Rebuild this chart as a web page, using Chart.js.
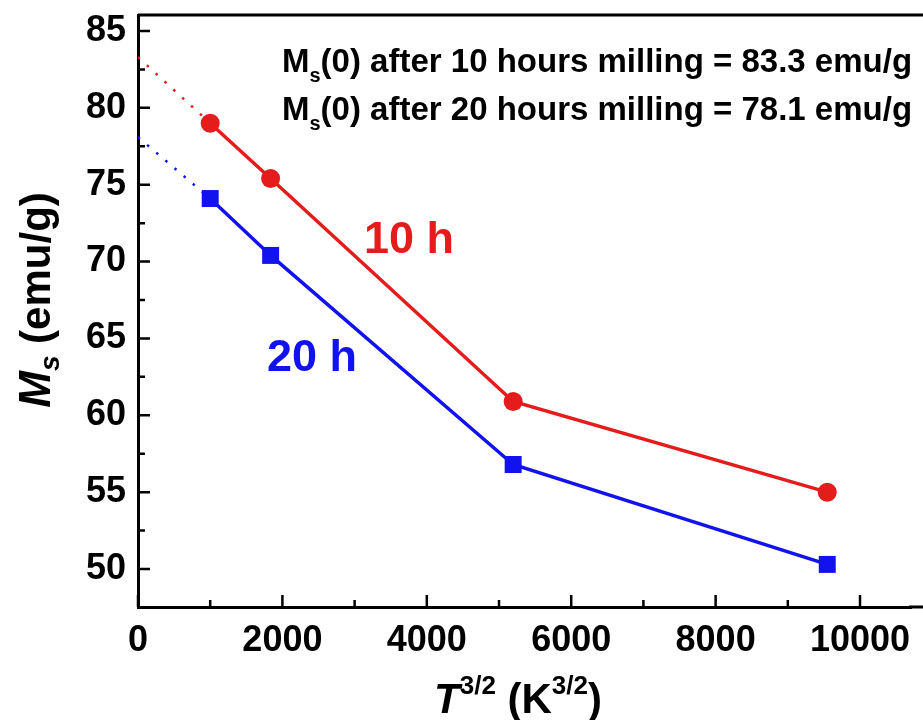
<!DOCTYPE html>
<html>
<head>
<meta charset="utf-8">
<script src="https://cdn.jsdelivr.net/npm/chart.js@4"></script>
<style>
  body { margin: 0; background: #fff; }
  canvas { display: block; }
</style>
</head>
<body>
<canvas id="msChart" width="923" height="720"></canvas>
<script>
// data, x = T^(3/2) for T = 100, 150, 300, 450 K
const tPow = [1000, 1837, 5196, 9546];
const ms10h = [79.0, 75.4, 60.9, 55.0];
const ms20h = [74.1, 70.4, 56.8, 50.3];
// extrapolation to T = 0
const fit10h = [83.3, 79.0];
const fit20h = [78.1, 74.1];
const fitX = [0, 1000];

const xTicks = [0, 2000, 4000, 6000, 8000, 10000];
const yTicks = [50, 55, 60, 65, 70, 75, 80, 85];

const RED = '#e41c1c';
const BLUE = '#1212ee';

function pts(xs, ys) {
  return xs.map((x, i) => ({ x: x, y: ys[i] }));
}

// inward ticks, major + minor, top border
const frameTicks = {
  id: 'frameTicks',
  afterDraw(chart) {
    const ctx = chart.ctx;
    const a = chart.chartArea;
    const xs = chart.scales.x, ys = chart.scales.y;
    ctx.save();
    ctx.strokeStyle = '#000';
    ctx.lineWidth = 2.5;
    ctx.beginPath();
    for (let v = 0; v <= xs.max; v += 1000) {
      const px = xs.getPixelForValue(v);
      const len = v % 2000 === 0 ? 12 : 7;
      ctx.moveTo(px, a.bottom);
      ctx.lineTo(px, a.bottom - len);
    }
    for (let v = 50; v <= ys.max; v += 2.5) {
      const py = ys.getPixelForValue(v);
      const len = v % 5 === 0 ? 12 : 7;
      ctx.moveTo(a.left, py);
      ctx.lineTo(a.left + len, py);
    }
    ctx.stroke();
    // axes run off the right edge of the figure
    ctx.lineWidth = 3;
    ctx.beginPath();
    ctx.moveTo(a.left, a.top);
    ctx.lineTo(chart.width, a.top);
    ctx.moveTo(a.right - 2, a.bottom);
    ctx.lineTo(chart.width, a.bottom);
    ctx.stroke();
    ctx.restore();
  }
};

function drawRuns(ctx, runs, x, y) {
  let cx = x;
  runs.forEach(r => {
    ctx.font = r.font;
    ctx.fillText(r.t, cx, y + (r.dy || 0));
    cx += ctx.measureText(r.t).width;
  });
}
function runsWidth(ctx, runs) {
  let w = 0;
  runs.forEach(r => { ctx.font = r.font; w += ctx.measureText(r.t).width; });
  return w;
}

const FF = '"Liberation Sans", Arial, sans-serif';

const labels = {
  id: 'labels',
  afterDraw(chart) {
    const ctx = chart.ctx;
    ctx.save();
    ctx.textBaseline = 'alphabetic';
    ctx.textAlign = 'left';
    ctx.fillStyle = '#000';

    // x title
    const xt = [
      { t: 'T', font: 'italic bold 42px ' + FF },
      { t: '3/2', font: 'bold 26px ' + FF, dy: -19 },
      { t: ' (K', font: 'bold 42px ' + FF },
      { t: '3/2', font: 'bold 26px ' + FF, dy: -19 },
      { t: ')', font: 'bold 42px ' + FF }
    ];
    const xw = runsWidth(ctx, xt);
    drawRuns(ctx, xt, 518 - xw / 2, 713);

    // y title
    const yt = [
      { t: 'M', font: 'italic bold 44px ' + FF },
      { t: 's', font: 'italic bold 28px ' + FF, dy: 9 },
      { t: ' (emu/g)', font: 'bold 42px ' + FF }
    ];
    const yw = runsWidth(ctx, yt);
    ctx.translate(50, 300);
    ctx.rotate(-Math.PI / 2);
    drawRuns(ctx, yt, -yw / 2, 0);
    ctx.setTransform(1, 0, 0, 1, 0, 0);

    // M_s(0) notes
    const notes = [
      ['10', '83.3', 72],
      ['20', '78.1', 120]
    ];
    notes.forEach(n => {
      drawRuns(ctx, [
        { t: 'M', font: 'bold 33px ' + FF },
        { t: 's', font: 'bold 20px ' + FF, dy: 10 },
        { t: '(0) after ' + n[0] + ' hours milling = ' + n[1] + ' emu/g', font: 'bold 33px ' + FF }
      ], 282, n[2]);
    });

    // series labels
    ctx.font = 'bold 45px ' + FF;
    ctx.fillStyle = RED;
    ctx.fillText('10 h', 364, 253);
    ctx.fillStyle = BLUE;
    ctx.fillText('20 h', 267, 371);
    ctx.restore();
  }
};

new Chart(document.getElementById('msChart'), {
  type: 'scatter',
  data: {
    datasets: [
      {
        label: '10 h fit',
        data: pts(fitX, fit10h),
        showLine: true,
        borderColor: RED,
        borderWidth: 2.5,
        borderDash: [2.5, 9.5],
        pointRadius: 0
      },
      {
        label: '20 h fit',
        data: pts(fitX, fit20h),
        showLine: true,
        borderColor: BLUE,
        borderWidth: 2.5,
        borderDash: [2.5, 9.5],
        pointRadius: 0
      },
      {
        label: '10 h',
        data: pts(tPow, ms10h),
        showLine: true,
        borderColor: RED,
        backgroundColor: RED,
        borderWidth: 3.5,
        pointStyle: 'circle',
        pointRadius: 9.5,
        pointBorderWidth: 0
      },
      {
        label: '20 h',
        data: pts(tPow, ms20h),
        showLine: true,
        borderColor: BLUE,
        backgroundColor: BLUE,
        borderWidth: 3.5,
        pointStyle: 'rect',
        pointRadius: 12,
        pointBorderWidth: 0
      }
    ]
  },
  options: {
    responsive: false,
    animation: false,
    layout: { padding: { left: 0, top: 15, right: 0, bottom: 0 } },
    plugins: {
      legend: { display: false },
      tooltip: { enabled: false }
    },
    scales: {
      x: {
        type: 'linear',
        min: 0,
        max: 10706,
        afterBuildTicks: s => { s.ticks = xTicks.map(v => ({ value: v })); },
        afterFit: s => { s.height = 113; s.paddingLeft = 0; s.paddingRight = 0; },
        grid: { display: false, drawTicks: false },
        border: { display: true, color: '#000', width: 3 },
        ticks: {
          padding: 12,
          maxRotation: 0,
          color: '#000',
          font: { family: FF, size: 36, weight: 'bold' },
          callback: v => String(v)
        }
      },
      y: {
        type: 'linear',
        min: 47.53,
        max: 86.04,
        afterBuildTicks: s => { s.ticks = yTicks.map(v => ({ value: v })); },
        afterFit: s => { s.width = 138; s.paddingTop = 0; s.paddingBottom = 0; },
        grid: { display: false, drawTicks: false },
        border: { display: true, color: '#000', width: 3 },
        ticks: {
          padding: 12,
          color: '#000',
          font: { family: FF, size: 36, weight: 'bold' },
          callback: v => String(v)
        }
      }
    }
  },
  plugins: [frameTicks, labels]
});
</script>
</body>
</html>
